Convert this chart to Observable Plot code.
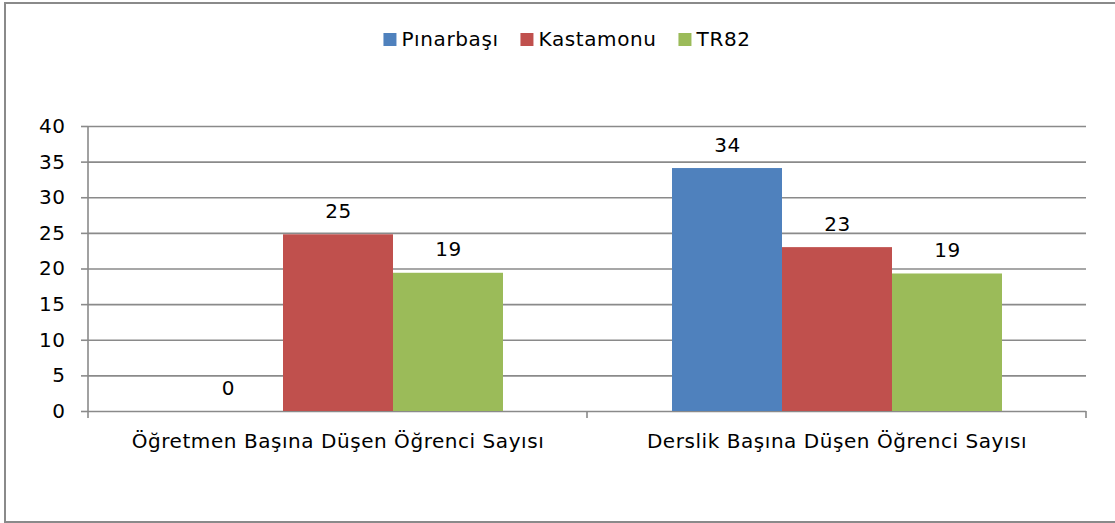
<!DOCTYPE html>
<html>
<head>
<meta charset="utf-8">
<script src="https://cdn.jsdelivr.net/npm/d3@7"></script>
<script src="https://cdn.jsdelivr.net/npm/@observablehq/plot@0.6"></script>
<style>
  html, body { margin: 0; padding: 0; background: #fff; }
  body { width: 1115px; height: 523px; overflow: hidden; position: relative;
         font-family: "DejaVu Sans", sans-serif; }
  #frame { position: absolute; left: 4px; top: 2px; width: 1130px; height: 521px;
           border: 2px solid #8a8a8a; box-sizing: border-box; }
  #chart { position: absolute; left: 0; top: 0; }
  #chart svg text { letter-spacing: 0.55px; }
  #legend { position: absolute; top: 27px; left: 567px; transform: translateX(-50%);
            display: flex; align-items: baseline; gap: 22px; font-size: 20px; color: #000;
            white-space: nowrap; letter-spacing: 0.6px; }
  #legend .item { display: flex; align-items: baseline; gap: 5px; }
  #legend .sw { display: inline-block; width: 13px; height: 13px; }
</style>
</head>
<body>
<div id="frame"></div>
<div id="chart"></div>
<div id="legend"></div>
<script>
const categories = ["Öğretmen Başına Düşen Öğrenci Sayısı", "Derslik Başına Düşen Öğrenci Sayısı"];
const series = ["Pınarbaşı", "Kastamonu", "TR82"];
const colors = ["#4F81BD", "#C0504D", "#9BBB59"];
const pinarbasi = [0, 34.1];
const kastamonu = [24.8, 23.0];
const tr82 = [19.4, 19.3];
const yTicks = [0, 5, 10, 15, 20, 25, 30, 35, 40];

const seriesValues = [pinarbasi, kastamonu, tr82];
const data = [];
categories.forEach((c, ci) => series.forEach((s, si) => data.push({cat: c, series: s, value: seriesValues[si][ci]})));

const font = '"DejaVu Sans", sans-serif';
const fs = 20;
const gridColor = "#8a8a8a";

const plot = Plot.plot({
  width: 1115,
  height: 523,
  marginLeft: 88,
  marginRight: 29,
  marginTop: 126,
  marginBottom: 112,
  style: {fontFamily: font, fontSize: fs + "px", color: "#000", background: "transparent", overflow: "visible"},
  fx: {domain: categories, padding: 0, label: null},
  x: {domain: series, paddingInner: 0, paddingOuter: 0.75, axis: null},
  y: {domain: [0, 40], label: null, ticks: yTicks},
  color: {domain: series, range: colors},
  marks: [
    Plot.gridY(yTicks, {stroke: gridColor, strokeOpacity: 1, strokeWidth: 1.6}),
    Plot.barY(data, {fx: "cat", x: "series", y: "value", fill: "series"}),
    Plot.text(data, {fx: "cat", x: "series", y: "value", text: d => d3.format(".0f")(d.value),
      lineAnchor: "bottom", dy: -17, fontSize: fs, fill: "#000"}),
    Plot.axisY(yTicks, {tickSize: 7, tickPadding: 16, fontSize: fs, stroke: gridColor, strokeWidth: 1.6, label: null, tickFormat: d3.format("d")}),
    Plot.axisFx({anchor: "bottom", tickSize: 0, tickPadding: 22, fontSize: fs, label: null})
  ]
});
document.getElementById("chart").appendChild(plot);

// axis line and category boundary ticks, from Plot's own scales
const fx = plot.scale("fx"), y = plot.scale("y");
const svg = d3.select(plot);
const y0 = y.apply(0), yTop = y.apply(40);
const x0 = fx.apply(categories[0]);
const bw = fx.bandwidth;
svg.append("line").attr("x1", x0).attr("x2", x0).attr("y1", yTop).attr("y2", y0 + 7)
  .attr("stroke", gridColor).attr("stroke-width", 1.6);
categories.forEach(c => {
  const xe = fx.apply(c) + bw;
  svg.append("line").attr("x1", xe).attr("x2", xe).attr("y1", y0).attr("y2", y0 + 7)
    .attr("stroke", gridColor).attr("stroke-width", 1.6);
});

const legend = document.getElementById("legend");
series.forEach((s, i) => {
  const it = document.createElement("div");
  it.className = "item";
  it.innerHTML = `<span class="sw" style="background:${colors[i]}"></span><span>${s}</span>`;
  legend.appendChild(it);
});
</script>
</body>
</html>
